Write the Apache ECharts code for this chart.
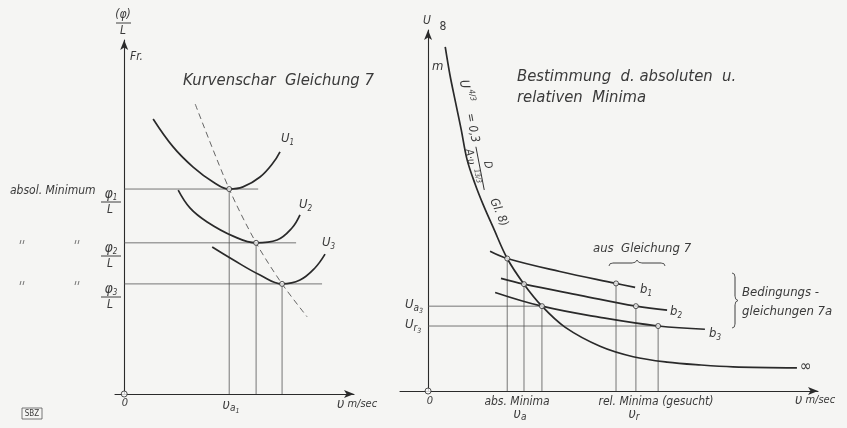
<!DOCTYPE html>
<html><head><meta charset="utf-8">
<script src="https://cdn.jsdelivr.net/npm/echarts@6/dist/echarts.min.js"></script>
<style>html,body{margin:0;padding:0;background:#f5f5f3}#c{width:847px;height:428px}</style>
</head><body><div id="c"></div>
<script>
// ---------- Left panel: "Kurvenschar Gleichung 7" (x: v, y: phi/L, arbitrary units) ----------
const curveU1 = [[1.26,7.77],[2.13,6.98],[3.0,6.41],[3.87,5.99],[4.57,5.79],[5.17,5.85],[5.91,6.13],[6.48,6.53],[6.78,6.84]];
const curveU2 = [[2.35,5.76],[2.87,5.25],[3.61,4.86],[4.74,4.46],[5.74,4.27],[6.65,4.35],[7.30,4.69],[7.65,5.06]];
const curveU3 = [[3.83,4.15],[4.74,3.79],[5.91,3.36],[6.87,3.11],[7.65,3.22],[8.30,3.56],[8.74,3.95]];
const minimaLocus = [[3.09,8.19],[4.57,5.79],[5.74,4.27],[6.87,3.11],[7.96,2.18]];
const minimaLeft = [[4.57,5.79],[5.74,4.27],[6.87,3.11]];
const phiLineEnds = [5.83,7.48,8.61];

// ---------- Right panel: "Bestimmung d. absoluten u. relativen Minima" (x: v, y: U) ----------
const curveGl8 = [[0.44,9.53],[0.56,8.76],[0.69,8.07],[0.85,7.24],[1.00,6.41],[1.21,5.72],[1.41,5.17],[1.67,4.53],[2.03,3.67],[2.46,2.96],[2.92,2.35],[3.51,1.77],[4.41,1.24],[5.26,0.95],[6.13,0.80],[7.00,0.72],[7.82,0.67],[9.46,0.64]];
const curveB1 = [[1.59,3.87],[2.03,3.67],[3.38,3.31],[4.82,2.98],[5.31,2.87]];
const curveB2 = [[1.87,3.12],[2.46,2.96],[3.90,2.65],[5.33,2.35],[6.13,2.24]];
const curveB3 = [[1.72,2.73],[2.92,2.35],[4.41,2.04],[5.90,1.80],[7.10,1.71]];
const absMinima = [[2.03,3.67],[2.46,2.96],[2.92,2.35]];
const relMinima = [[4.82,2.98],[5.33,2.35],[5.90,1.80]];

const INK = '#2a2a2a', TXT = '#3a3a3a';
const FONT = "'Liberation Sans Narrow','DejaVu Sans Condensed','Liberation Sans',sans-serif";
const ctx = document.createElement('canvas').getContext('2d');
function fnt(s, it){ return (it===false?'':'italic ') + s + 'px ' + FONT; }
function tw(t,s,it){ ctx.font = fnt(s,it); return ctx.measureText(t).width; }
function T(x,y,text,s,align,opt){
  opt = opt||{};
  return Object.assign({type:'text', x:x, y:y, silent:true, z:100,
    style:{text:text, font:fnt(s,opt.italic), fill:TXT, textAlign:align||'left', align:align||'left', textVerticalAlign:'middle', verticalAlign:'middle'}}, opt.el||{});
}
function run(x,y,parts,align){
  let w = 0; parts.forEach(p=>{ w += tw(p.t,p.s); });
  let cx = align==='center' ? x - w/2 : x;
  const out = [];
  parts.forEach(p=>{ out.push(T(cx, y + (p.dy||0), p.t, p.s, 'left')); cx += tw(p.t,p.s); });
  return out;
}
function L(x1,y1,x2,y2,w,c){ return {type:'line', silent:true, z:100, shape:{x1:x1,y1:y1,x2:x2,y2:y2}, style:{stroke:c||INK, lineWidth:w||1}}; }
function Q(x1,y1,cx,cy,x2,y2){ return {type:'bezierCurve', silent:true, z:100, shape:{x1:x1,y1:y1,x2:x2,y2:y2,cpx1:cx,cpy1:cy}, style:{fill:null,stroke:'#444',lineWidth:0.9}}; }
function ditto(x,y){ return [L(x-1,y-3,x-2,y+1,0.8,'#555'), L(x+2,y-3,x+1,y+1,0.8,'#555')]; }

function lineS(data, xi, opt){
  opt = opt||{};
  return {type:'line', xAxisIndex:xi, yAxisIndex:xi, data:data, smooth:opt.smooth===undefined?0.4:opt.smooth,
    showSymbol:false, silent:true, animation:false, z:opt.z||3,
    lineStyle:{color:opt.color||INK, width:opt.width||1.7, type:opt.type||'solid'}};
}
function guide(a,b,xi){ return lineS([a,b], xi, {smooth:false, width:0.8, color:'#555', z:2}); }
function pts(data, xi, size){
  return {type:'scatter', xAxisIndex:xi, yAxisIndex:xi, data:data, symbol:'circle', symbolSize:size||5, silent:true, z:10,
    itemStyle:{color:'#fafafa', borderColor:INK, borderWidth:1}};
}

const series = [];
series.push(lineS(curveU1,0), lineS(curveU2,0), lineS(curveU3,0));
series.push(lineS(minimaLocus,0,{width:0.9,type:[6,4],color:'#555',smooth:0.3}));
minimaLeft.forEach((p,i)=>{
  series.push(guide([0,p[1]],[phiLineEnds[i],p[1]],0));
  series.push(guide([p[0],0],[p[0],p[1]],0));
});
series.push(pts(minimaLeft,0), pts([[0,0]],0,6));
series.push(lineS(curveGl8,1,{smooth:0.35}), lineS(curveB1,1), lineS(curveB2,1), lineS(curveB3,1));
absMinima.concat(relMinima).forEach(p=>{ series.push(guide([p[0],0],[p[0],p[1]],1)); });
series.push(guide([0,absMinima[2][1]],absMinima[2],1));
series.push(guide([0,relMinima[2][1]],relMinima[2],1));
series.push(pts(absMinima.concat(relMinima),1), pts([[0,0]],1,6));

function ax(gi,min,max){
  return {type:'value', gridIndex:gi, min:min, max:max,
    axisLine:{show:true, onZero:true, symbol:['none','arrow'], symbolSize:[6,10], lineStyle:{color:INK,width:1.1}},
    axisTick:{show:false}, axisLabel:{show:false}, splitLine:{show:false}};
}

const g = [];
g.push(T(123,15,'(φ)',12,'center'), L(116,23,131,23,0.9), T(123,31,'L',12,'center'));
g.push(T(130,57,'Fr.',12));
g.push(T(183,81,'Kurvenschar  Gleichung 7',16.5));
g.push(...run(281,139,[{t:'U',s:13},{t:'1',s:8,dy:4}]));
g.push(...run(299,205,[{t:'U',s:13},{t:'2',s:8,dy:4}]));
g.push(...run(322,243,[{t:'U',s:13},{t:'3',s:8,dy:4}]));
g.push(T(10,191,'absol. Minimum',12));
minimaLeft.forEach((p,i)=>{
  const ly = [189,243,284][i];
  g.push(...run(111,ly+5,[{t:'φ',s:14},{t:String(i+1),s:8,dy:4}],'center'));
  g.push(L(101,ly+13,121,ly+13,0.9));
  g.push(T(110,ly+21,'L',12,'center'));
  if(i>0){ g.push(...ditto(22,ly), ...ditto(77,ly)); }
});
g.push(T(125,403,'0',11,'center'));
g.push(...run(231,405,[{t:'υ',s:14},{t:'a',s:10,dy:3},{t:'1',s:7,dy:6}],'center'));
g.push(...run(337,404,[{t:'υ',s:14},{t:' m/sec',s:11}]));
g.push({type:'rect', silent:true, shape:{x:22,y:408,width:20,height:11}, style:{fill:null,stroke:'#555',lineWidth:0.8}});
g.push(T(32,413.5,'SBZ',8,'center',{italic:false}));

g.push(T(427,21,'U',12,'center'));
g.push(T(443,27,'8',12,'center',{italic:false}));
g.push(T(432,67,'m',13));
g.push(T(517,77,'Bestimmung  d. absoluten  u.',16.5));
g.push(T(517,98,'relativen  Minima',16.5));
g.push({type:'group', x:463, y:80, rotation:-1.38, silent:true, children:[
  T(0,0,'U',13), T(11,-6,'4/3',8), T(34,0,'= 0,3',12),
  T(88,-8,'D',11,'center'),
  L(68,0,112,0,0.9),
  T(69,8,'A·υ',11), T(90,4,'13/3',7)
]});
g.push({type:'group', x:493, y:199, rotation:-1.17, silent:true, children:[T(0,0,'Gl. 8)',12)]});
g.push(T(593,249,'aus  Gleichung 7',13));
g.push(Q(609,266,609,263,613,263), L(613,263,632,263,0.9), Q(632,263,636,263,637,260), Q(637,260,638,263,642,263), L(642,263,661,263,0.9), Q(661,263,665,263,665,266));
g.push(Q(732,273,735,273,735,277), L(735,277,735,296,0.9), Q(735,296,735,300,738,300.5), Q(738,300.5,735,301,735,305), L(735,305,735,324,0.9), Q(735,324,735,328,732,328));
g.push(...run(640,290,[{t:'b',s:13},{t:'1',s:8,dy:4}]));
g.push(...run(670,312,[{t:'b',s:13},{t:'2',s:8,dy:4}]));
g.push(...run(709,334,[{t:'b',s:13},{t:'3',s:8,dy:4}]));
g.push(T(742,293,'Bedingungs -',13));
g.push(T(742,312,'gleichungen 7a',13));
g.push(...run(405,305,[{t:'U',s:13},{t:'a',s:10,dy:3},{t:'3',s:7,dy:6}]));
g.push(...run(405,325,[{t:'U',s:13},{t:'r',s:10,dy:3},{t:'3',s:7,dy:6}]));
g.push(T(806,367,'∞',16,'center',{italic:false}));
g.push(T(430,401,'0',11,'center'));
g.push(T(517,402,'abs. Minima',12,'center'));
g.push(...run(520,414,[{t:'υ',s:14},{t:'a',s:10,dy:3}],'center'));
g.push(T(656,402,'rel. Minima (gesucht)',12,'center'));
g.push(...run(634,414,[{t:'υ',s:14},{t:'r',s:10,dy:3}],'center'));
g.push(...run(795,400,[{t:'υ',s:14},{t:' m/sec',s:11}]));

const chart = echarts.init(document.getElementById('c'), null, {renderer:'canvas'});
chart.setOption({
  backgroundColor:'#f5f5f3',
  animation:false,
  grid:[{left:115, top:40, width:239, height:354}, {left:400, top:30, width:418, height:361}],
  xAxis:[ax(0,-0.4,10), ax(1,-0.72,10)],
  yAxis:[ax(0,0,10), ax(1,0,10)],
  series:series,
  graphic:{elements:g}
});
</script></body></html>
